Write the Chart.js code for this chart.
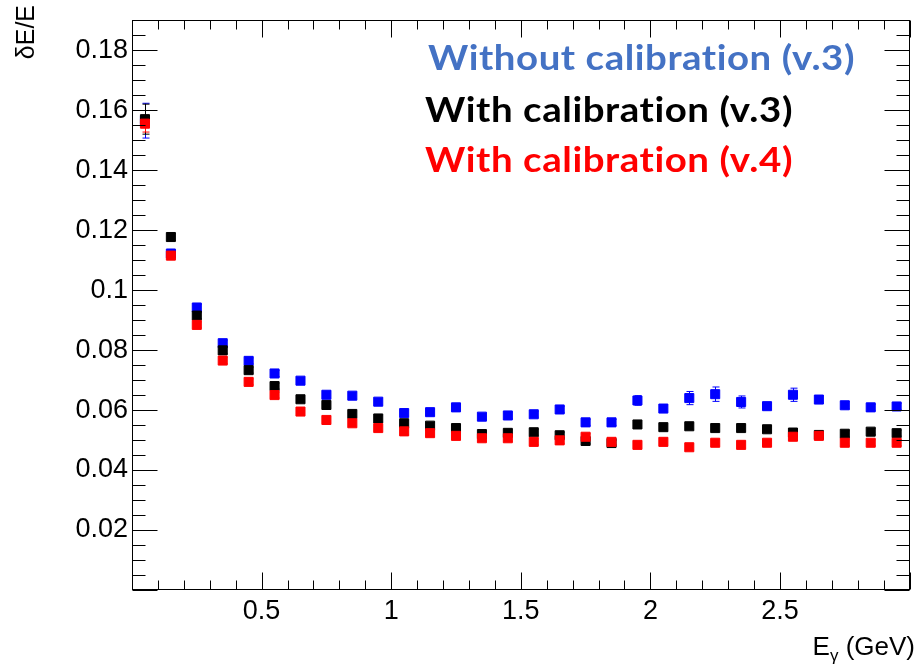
<!DOCTYPE html>
<html lang="en">
<head>
<meta charset="UTF-8">
<title>Energy resolution vs photon energy</title>
<style>
  html, body { margin: 0; padding: 0; background: #ffffff; }
  .chart-box { position: relative; width: 917px; height: 667px; }
</style>
</head>
<body>
<div class="chart-box"><canvas id="chart"></canvas></div>
<script src="https://cdn.jsdelivr.net/npm/chart.js@4.4.0/dist/chart.umd.js"></script>
<script>
// bin centres, GeV
const energies = [0.05, 0.15, 0.25, 0.35, 0.45, 0.55, 0.65, 0.75, 0.85, 0.95,
                  1.05, 1.15, 1.25, 1.35, 1.45, 1.55, 1.65, 1.75, 1.85, 1.95,
                  2.05, 2.15, 2.25, 2.35, 2.45, 2.55, 2.65, 2.75, 2.85, 2.95];

// dE/E
const noCalibV3 = [0.1565, 0.1122, 0.0942, 0.0823, 0.0764, 0.0722, 0.0698, 0.0651, 0.0648, 0.0628,
                   0.0590, 0.0593, 0.0609, 0.0578, 0.0582, 0.0586, 0.0602, 0.0559, 0.0559, 0.0632,
                   0.0605, 0.0640, 0.0653, 0.0627, 0.0613, 0.0651, 0.0635, 0.0616, 0.0609, 0.0612];
const calibV3   = [0.1570, 0.1177, 0.0915, 0.0799, 0.0733, 0.0680, 0.0636, 0.0617, 0.0587, 0.0572,
                   0.0556, 0.0548, 0.0540, 0.0520, 0.0524, 0.0526, 0.0516, 0.0497, 0.0490, 0.0552,
                   0.0543, 0.0546, 0.0540, 0.0540, 0.0536, 0.0525, 0.0517, 0.0521, 0.0528, 0.0523];
const calibV4   = [0.1555, 0.1115, 0.0884, 0.0765, 0.0694, 0.0650, 0.0595, 0.0567, 0.0556, 0.0540,
                   0.0529, 0.0523, 0.0514, 0.0506, 0.0506, 0.0494, 0.0499, 0.0511, 0.0494, 0.0484,
                   0.0494, 0.0476, 0.0491, 0.0484, 0.0491, 0.0511, 0.0514, 0.0491, 0.0491, 0.0491];

// statistical errors (mostly hidden under the markers)
const noCalibV3Err = [0.0058, 0.001, 0.001, 0.001, 0.001, 0.001, 0.001, 0.001, 0.001, 0.001,
                      0.001, 0.001, 0.001, 0.001, 0.001, 0.001, 0.001, 0.001, 0.001, 0.0016,
                      0.001, 0.0022, 0.0024, 0.0020, 0.001, 0.0022, 0.0012, 0.0012, 0.001, 0.001];
const calibV3Err   = [0.0050, 0.0012, 0.001, 0.001, 0.001, 0.001, 0.001, 0.001, 0.001, 0.001,
                      0.001, 0.001, 0.001, 0.001, 0.001, 0.001, 0.001, 0.001, 0.001, 0.001,
                      0.001, 0.001, 0.001, 0.001, 0.001, 0.001, 0.001, 0.001, 0.001, 0.001];
const calibV4Err   = [0.0028, 0.001, 0.001, 0.001, 0.001, 0.001, 0.001, 0.001, 0.001, 0.001,
                      0.001, 0.001, 0.001, 0.001, 0.001, 0.001, 0.001, 0.001, 0.001, 0.001,
                      0.001, 0.001, 0.001, 0.001, 0.001, 0.001, 0.001, 0.001, 0.001, 0.001];

const xTickLabels = ['0.5', '1', '1.5', '2', '2.5'];
const yTickLabels = ['0.02', '0.04', '0.06', '0.08', '0.1', '0.12', '0.14', '0.16', '0.18'];

const legendLines = [
    { text: 'Without calibration (v.3)', color: '#4472c4' },
    { text: 'With calibration (v.3)',    color: '#000000' },
    { text: 'With calibration (v.4)',    color: '#ff0000' }
];

const series = [
    { label: 'Without calibration (v.3)', y: noCalibV3, err: noCalibV3Err, color: '#0000ff', order: 3 },
    { label: 'With calibration (v.3)',    y: calibV3,   err: calibV3Err,   color: '#000000', order: 2 },
    { label: 'With calibration (v.4)',    y: calibV4,   err: calibV4Err,   color: '#ff0000', order: 1 }
];

const AXIS_FONT = 'Liberation Sans';

function fmt(v) { return String(+v.toFixed(3)); }

// error bars drawn under the markers
const errorBars = {
    id: 'errorBars',
    beforeDatasetsDraw(chart) {
        const { ctx, scales: { x, y } } = chart;
        ctx.save();
        ctx.lineWidth = 1;
        series.forEach(s => {
            ctx.strokeStyle = s.color;
            energies.forEach((e, i) => {
                const px = Math.round(x.getPixelForValue(e)) + 0.5;
                const top = y.getPixelForValue(s.y[i] + s.err[i]);
                const bot = y.getPixelForValue(s.y[i] - s.err[i]);
                ctx.beginPath();
                ctx.moveTo(px, top); ctx.lineTo(px, bot);
                ctx.moveTo(px - 3, top); ctx.lineTo(px + 4, top);
                ctx.moveTo(px - 3, bot); ctx.lineTo(px + 4, bot);
                ctx.stroke();
            });
        });
        ctx.restore();
    }
};

// ROOT style frame with inner ticks on all four sides, axis titles and text legend
const rootFrame = {
    id: 'rootFrame',
    afterDraw(chart) {
        const { ctx, chartArea: a, scales: { x, y } } = chart;
        ctx.save();
        ctx.strokeStyle = '#000';
        ctx.lineWidth = 1;
        const L = Math.round(a.left) + 0.5, R = Math.round(a.right) - 0.5;
        const T = Math.round(a.top) + 0.5, B = Math.round(a.bottom) - 0.5;
        ctx.strokeRect(L, T, R - L, B - T);

        ctx.beginPath();
        for (let i = 0; i <= 38; i++) {
            const py = Math.round(y.getPixelForValue(i * 0.005)) + 0.5;
            const len = i % 4 === 0 ? 25 : 13;
            ctx.moveTo(L, py); ctx.lineTo(L + len, py);
            ctx.moveTo(R, py); ctx.lineTo(R - len, py);
        }
        for (let i = 0; i <= 30; i++) {
            const px = Math.round(x.getPixelForValue(i * 0.1)) + 0.5;
            const len = i % 5 === 0 ? 17 : 9;
            ctx.moveTo(px, B); ctx.lineTo(px, B - len);
            ctx.moveTo(px, T); ctx.lineTo(px, T + len);
        }
        ctx.stroke();

        // y title, right aligned to the top
        ctx.fillStyle = '#000';
        ctx.font = '25px "' + AXIS_FONT + '"';
        ctx.save();
        ctx.translate(34, 5);
        ctx.rotate(-Math.PI / 2);
        ctx.textAlign = 'right';
        ctx.textBaseline = 'alphabetic';
        ctx.fillText('\u03b4E/E', 0, 0);
        ctx.restore();

        // x title, right aligned to the frame
        const big = '26px "' + AXIS_FONT + '"', small = '17px "' + AXIS_FONT + '"';
        ctx.textAlign = 'left';
        ctx.textBaseline = 'alphabetic';
        ctx.font = big;
        const wE = ctx.measureText('E').width, wRest = ctx.measureText(' (GeV)').width;
        ctx.font = small;
        const wG = ctx.measureText('\u03b3').width;
        let cx = 915 - (wE + wG + wRest);
        const base = 655;
        ctx.font = big; ctx.fillText('E', cx, base); cx += wE;
        ctx.font = small; ctx.fillText('\u03b3', cx, base + 6); cx += wG;
        ctx.font = big; ctx.fillText(' (GeV)', cx, base);

        // legend text (stretched to the widths seen in the picture)
        const spots = [[428, 70, 427], [425, 122, 368], [425, 172, 368]];
        ctx.font = 'bold 35px Lato';
        ctx.letterSpacing = '0.5px'; // also keeps the "ti" ligature away
        legendLines.forEach((l, i) => {
            const [lx, lb, lw] = spots[i];
            const w = ctx.measureText(l.text).width;
            ctx.save();
            ctx.translate(lx, lb);
            ctx.scale(lw / w, 1);
            ctx.fillStyle = l.color;
            ctx.fillText(l.text, 0, 0);
            ctx.restore();
        });
        ctx.restore();
    }
};

const chart = new Chart(document.getElementById('chart'), {
    type: 'scatter',
    data: {
        datasets: series.map(s => ({
            label: s.label,
            data: energies.map((e, i) => ({ x: e, y: s.y[i] })),
            backgroundColor: s.color,
            borderColor: s.color,
            borderWidth: 1,
            pointStyle: 'rect',
            pointRadius: 6.4,
            pointHoverRadius: 6.4,
            order: s.order
        }))
    },
    options: {
        responsive: true,
        maintainAspectRatio: false,
        animation: false,
        layout: { padding: { top: 6, right: 1, left: 0, bottom: 0 } },
        plugins: { legend: { display: false }, tooltip: { enabled: false } },
        scales: {
            x: {
                type: 'linear',
                min: 0, max: 3,
                afterFit: s => { s.height = 77; },
                grid: { display: false, drawTicks: false },
                border: { display: false },
                afterBuildTicks: s => { s.ticks = xTickLabels.map(v => ({ value: +v })); },
                ticks: {
                    padding: 5,
                    color: '#000',
                    font: { family: AXIS_FONT, size: 27 },
                    maxRotation: 0,
                    callback: v => fmt(v)
                }
            },
            y: {
                type: 'linear',
                min: 0, max: 0.19,
                afterFit: s => { s.width = 132; },
                grid: { display: false, drawTicks: false },
                border: { display: false },
                afterBuildTicks: s => { s.ticks = yTickLabels.map(v => ({ value: +v })); },
                ticks: {
                    padding: 4,
                    color: '#000',
                    font: { family: AXIS_FONT, size: 27 },
                    callback: v => fmt(v)
                }
            }
        }
    },
    plugins: [errorBars, rootFrame]
});
</script>
</body>
</html>
